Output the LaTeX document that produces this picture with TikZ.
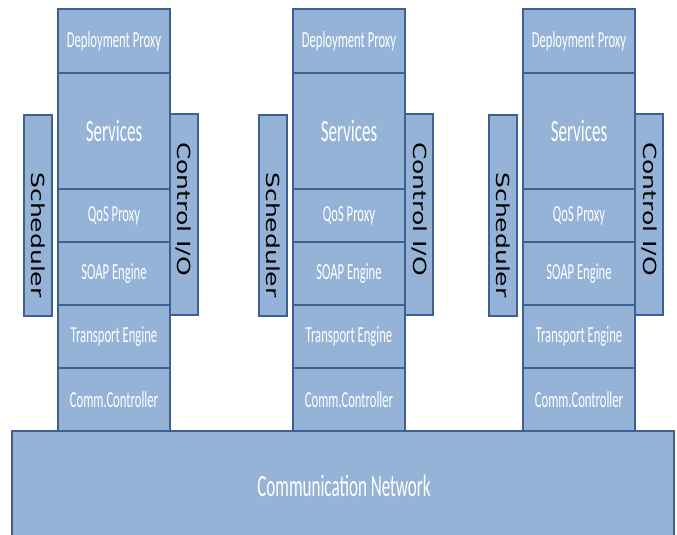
\documentclass[tikz,border=0pt]{standalone}
\usepackage{fontspec}
\usepackage{xcolor}
\newfontfamily\layerfont[FakeStretch=0.55]{Carlito}
\newfontfamily\sidefont[FakeStretch=1.39]{DejaVu Sans}
\definecolor{layerfill}{HTML}{95B3D7}
\definecolor{layerline}{HTML}{3D6192}
\tikzset{
  layer/.style={draw=layerline, fill=layerfill, line width=1.6pt, inner sep=0pt,
    minimum width=112pt, text=white, font=\layerfont\fontsize{23}{23}\selectfont},
  sidebox/.style={draw=layerline, fill=layerfill, line width=1.6pt, inner sep=0pt,
    minimum width=28pt, minimum height=201pt},
  sidelabel/.style={rotate=-90, inner sep=0pt, font=\sidefont\fontsize{18}{18}\selectfont}
}
\begin{document}
\begin{tikzpicture}[x=1pt, y=-1pt]
  \useasboundingbox (0,0) rectangle (677,535);
  \clip (0,0) rectangle (677,535);

  % Node 1
  \node[sidebox] (sch1) at (38,215.5) {};
  \node[sidelabel] (schl1) at (38,235) {Scheduler};
  \node[sidebox] (ctl1) at (184,214.5) {};
  \node[sidelabel] (ctll1) at (184,209) {Control I/O};
  \node[layer, minimum height=64pt] (dp1) at (114,41) {Deployment Proxy};
  \node[layer, minimum height=116pt, font=\layerfont\fontsize{31}{31}\selectfont] (sv1) at (114,131) {Services};
  \node[layer, minimum height=53pt] (qos1) at (114,215.5) {QoS Proxy};
  \node[layer, minimum height=63pt] (soap1) at (114,273.5) {SOAP Engine};
  \node[layer, minimum height=63pt] (tr1) at (114,336.5) {Transport Engine};
  \node[layer, minimum height=63pt] (cc1) at (114,399.5) {Comm.Controller};

  % Node 2
  \node[sidebox] (sch2) at (273,215.5) {};
  \node[sidelabel] (schl2) at (273,235) {Scheduler};
  \node[sidebox] (ctl2) at (419,214.5) {};
  \node[sidelabel] (ctll2) at (419,209) {Control I/O};
  \node[layer, minimum height=64pt] (dp2) at (349,41) {Deployment Proxy};
  \node[layer, minimum height=116pt, font=\layerfont\fontsize{31}{31}\selectfont] (sv2) at (349,131) {Services};
  \node[layer, minimum height=53pt] (qos2) at (349,215.5) {QoS Proxy};
  \node[layer, minimum height=63pt] (soap2) at (349,273.5) {SOAP Engine};
  \node[layer, minimum height=63pt] (tr2) at (349,336.5) {Transport Engine};
  \node[layer, minimum height=63pt] (cc2) at (349,399.5) {Comm.Controller};

  % Node 3
  \node[sidebox] (sch3) at (503,215.5) {};
  \node[sidelabel] (schl3) at (503,235) {Scheduler};
  \node[sidebox] (ctl3) at (649,214.5) {};
  \node[sidelabel] (ctll3) at (649,209) {Control I/O};
  \node[layer, minimum height=64pt] (dp3) at (579,41) {Deployment Proxy};
  \node[layer, minimum height=116pt, font=\layerfont\fontsize{31}{31}\selectfont] (sv3) at (579,131) {Services};
  \node[layer, minimum height=53pt] (qos3) at (579,215.5) {QoS Proxy};
  \node[layer, minimum height=63pt] (soap3) at (579,273.5) {SOAP Engine};
  \node[layer, minimum height=63pt] (tr3) at (579,336.5) {Transport Engine};
  \node[layer, minimum height=63pt] (cc3) at (579,399.5) {Comm.Controller};

  % Network (runs past the lower edge)
  \node[layer, minimum width=662pt, minimum height=140pt] (net) at (343,501) {};
  \node[text=white, font=\layerfont\fontsize{31}{31}\selectfont] (netl) at (344,486) {Communication Network};
\end{tikzpicture}
\end{document}
